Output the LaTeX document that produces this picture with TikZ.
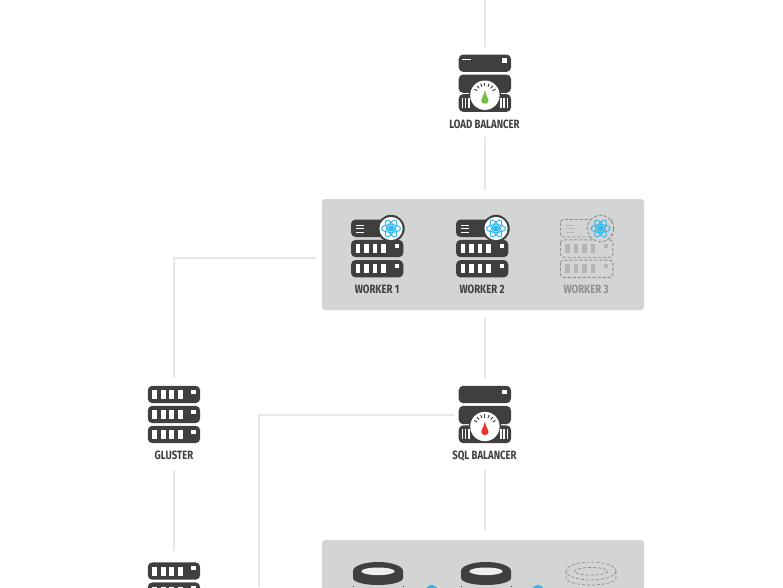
\documentclass[tikz,border=0pt]{standalone}
\usepackage{fontspec}
\usetikzlibrary{calc}
\setmainfont{Fira Sans}
\definecolor{ink}{HTML}{3F3F40}
\definecolor{wire}{HTML}{E6E7E7}
\definecolor{panelgrey}{HTML}{D3D4D4}
\definecolor{ghost}{HTML}{8E8F90}
\definecolor{ghostfill}{HTML}{B4B5B6}
\definecolor{atomblue}{HTML}{2FB8F0}
\definecolor{needlegreen}{HTML}{72BE44}
\definecolor{needlered}{HTML}{E8352E}
\newcommand{\lbl}[1]{\scalebox{.8}[1]{\fontsize{12}{13}\selectfont\bfseries #1}}
\tikzset{ghostline/.style={draw=ghost,line width=.9pt,dash pattern=on 3.2pt off 1.8pt}}
% solid rack unit: #1 top y, x origin 0
\newcommand{\slotunit}[1]{%
  \fill[ink,rounded corners=4.5pt] (0,#1) rectangle (52.3,#1+17.3);
  \foreach \sx in {4.5,13.1,21.6,30.2}{\fill[white] (\sx,#1+4.1) rectangle (\sx+4.6,#1+13.2);}
  \fill[white] (43.5,#1+3.8) rectangle (47.8,#1+8);}
\newcommand{\ghostunit}[1]{%
  \draw[ghostline,rounded corners=3pt] (0,#1) rectangle (52.3,#1+17.3);
  \foreach \sx in {4.5,13.1,21.6,30.2}{\fill[ghostfill] (\sx,#1+4.1) rectangle (\sx+4.6,#1+13.2);}
  \fill[ghostfill] (43.5,#1+3.8) rectangle (47.8,#1+8);}
\newcommand{\atom}{%
  \foreach \ar in {0,60,120}{\draw[atomblue,line width=1pt,rotate=\ar] (0,0) ellipse [x radius=9.5,y radius=3.8];}
  \fill[atomblue] (0,0) circle (3);}
\newcommand{\workericon}[2]{% #1 x of left edge, #2 y top
  \begin{scope}[shift={(#1,#2)}]
    \fill[ink,rounded corners=4.5pt] (0,0) rectangle (52.3,17.5);
    \foreach \my in {5.7,9,12.7}{\fill[white] (5,\my-.7) rectangle (13,\my+.7);}
    \slotunit{20.4}\slotunit{40.6}
    \fill[ink] (40,9) circle (13.7);
    \fill[white] (40,9) circle (11.6);
    \begin{scope}[shift={(40,9)}]\atom\end{scope}
  \end{scope}}
\newcommand{\ghostworker}[2]{%
  \begin{scope}[shift={(#1,#2)}]
    \draw[ghostline,rounded corners=3pt] (0,0) rectangle (52.3,17.5);
    \foreach \my in {5.7,9,12.7}{\fill[ghostfill] (5,\my-.6) rectangle (13,\my+.6);}
    \ghostunit{20.4}\ghostunit{40.6}
    \fill[panelgrey] (40,9) circle (13.2);
    \draw[ghostline] (40,9) circle (13.2);
    \begin{scope}[shift={(40,9)}]\atom\end{scope}
  \end{scope}}
\newcommand{\balancer}[3]{% #1 y top, #2 needle colour, #3 1 if dash
  \begin{scope}[shift={(458.7,#1)}]
    \fill[ink,rounded corners=4.5pt] (0,0) rectangle (52.3,17.4);
    \fill[white] (43.4,3.8) rectangle (47.8,8.2);
    \ifnum#3=1 \fill[white] (3.4,4.2) rectangle (12.4,5.8);\fi
    \fill[ink,rounded corners=4.5pt] (0,20) rectangle (52.3,38.4);
    \fill[ink,rounded corners=4.5pt] (0,39.6) rectangle (52.3,57.4);
    \fill[ink] (10,30) rectangle (42,45);
    \foreach \vx in {3.6,6.8,10,42.2,45.4,48.6}{\fill[white] (\vx-.8,43.6) rectangle (\vx+.8,53.6);}
    \fill[white] (26.2,40.7) circle (14.7);
    \foreach \ta in {-60,-40,...,60}{\draw[ink,line width=1pt] ($(26.2,40.7)+(\ta-90:12.2)$) -- ($(26.2,40.7)+(\ta-90:9)$);}
    \fill[#2] (26.2,35) .. controls (26.8,41) and (29.8,43.5) .. (29.8,46.2)
      .. controls (29.8,50.2) and (22.6,50.2) .. (22.6,46.2)
      .. controls (22.6,43.5) and (25.6,41) .. (26.2,35) -- cycle;
  \end{scope}}
\newcommand{\dbring}[1]{%
  \fill[ink] (#1-25,571) -- (#1-25,578) arc[start angle=180,end angle=0,x radius=25,y radius=7] -- (#1+25,571) arc[start angle=0,end angle=-180,x radius=25,y radius=9] -- cycle;
  \fill[panelgrey!40!white] (#1,571.3) ellipse [x radius=16.7,y radius=3.8];
  \draw[ink,line width=.8pt] (#1-25,585.5) -- (#1-25,587) (#1+25,585.5) -- (#1+25,587);}
\begin{document}
\begin{tikzpicture}[x=1pt,y=-1pt,
  wirestyle/.style={draw=wire,line width=1.7pt},
  panel/.style={fill=panelgrey,rounded corners=3pt,minimum width=322pt,inner sep=0pt},
  spot/.style={inner sep=0pt,minimum width=60pt},
  caption/.style={inner sep=0pt,text=ink}]
\useasboundingbox (0,0) rectangle (783,587);
\clip (0,0) rectangle (783,587);
\fill[white] (0,0) rectangle (783,587);
% panels
\node[panel,minimum height=111pt] (workers) at (483,254.5) {};
\node[panel,minimum height=60pt,anchor=north] (dbs) at (483,540) {};
% invisible placeholders for connector ends
\node[spot,minimum height=90pt] (lb) at (485,92) {};
\node[spot,minimum height=92pt] (sql) at (485,424) {};
\node[spot,minimum height=92pt] (gluster) at (174,424) {};
\node[spot,minimum height=60pt,anchor=north] (gluster2) at (174,551) {};
\coordinate (entry) at (485,0);
\coordinate (wgl) at (316,258);
\coordinate (sqlw) at (454,415);
\coordinate (sqlout) at (259,587);
% connectors
\draw[wirestyle] (entry) -- (lb.north);
\draw[wirestyle,shorten >=9pt] (lb.south) -- (lb.south |- workers.north);
\draw[wirestyle,shorten <=8pt] (sql.north |- workers.south) -- (sql.north);
\draw[wirestyle] (wgl) -| (gluster.north);
\draw[wirestyle] (sqlw) -| (sqlout);
\draw[wirestyle,shorten >=10pt] (sql.south) -- (sql.south |- dbs.north);
\draw[wirestyle] (gluster.south) -- (gluster2.north);
% load balancer
\balancer{54.5}{needlegreen}{1}
\node[caption] (lbcap) at (484.5,124.3) {\lbl{LOAD BALANCER}};
% workers
\workericon{351}{219.5}
\workericon{456}{219.5}
\ghostworker{560.5}{219.5}
\node[caption] (w1) at (377,289.7) {\lbl{WORKER 1}};
\node[caption] (w2) at (482,289.7) {\lbl{WORKER 2}};
\node[caption,text=ghost] (w3) at (586,289.7) {\lbl{WORKER 3}};
% sql balancer
\balancer{385.8}{needlered}{0}
\node[caption] (sqlcap) at (484.5,456) {\lbl{SQL BALANCER}};
% gluster
\begin{scope}[shift={(147.8,0)}]
  \slotunit{385.8}\slotunit{405.8}\slotunit{425.8}
  \slotunit{562.4}\slotunit{582.4}
\end{scope}
\node[caption] (glcap) at (174,455.5) {\lbl{GLUSTER}};
% databases
\dbring{378}
\dbring{486}
\draw[ghostline,line width=.7pt] (591,571) ellipse [x radius=25,y radius=9];
\draw[ghostline,line width=.7pt] (591,571.3) ellipse [x radius=16.7,y radius=3.8];
\draw[ghostline,line width=.7pt] (566,571) -- (566,578) arc[start angle=180,end angle=0,x radius=25,y radius=7] -- (616,571);
\fill[atomblue] (431.7,591) circle (6);
\fill[atomblue] (538,591) circle (6);
\end{tikzpicture}
\end{document}
